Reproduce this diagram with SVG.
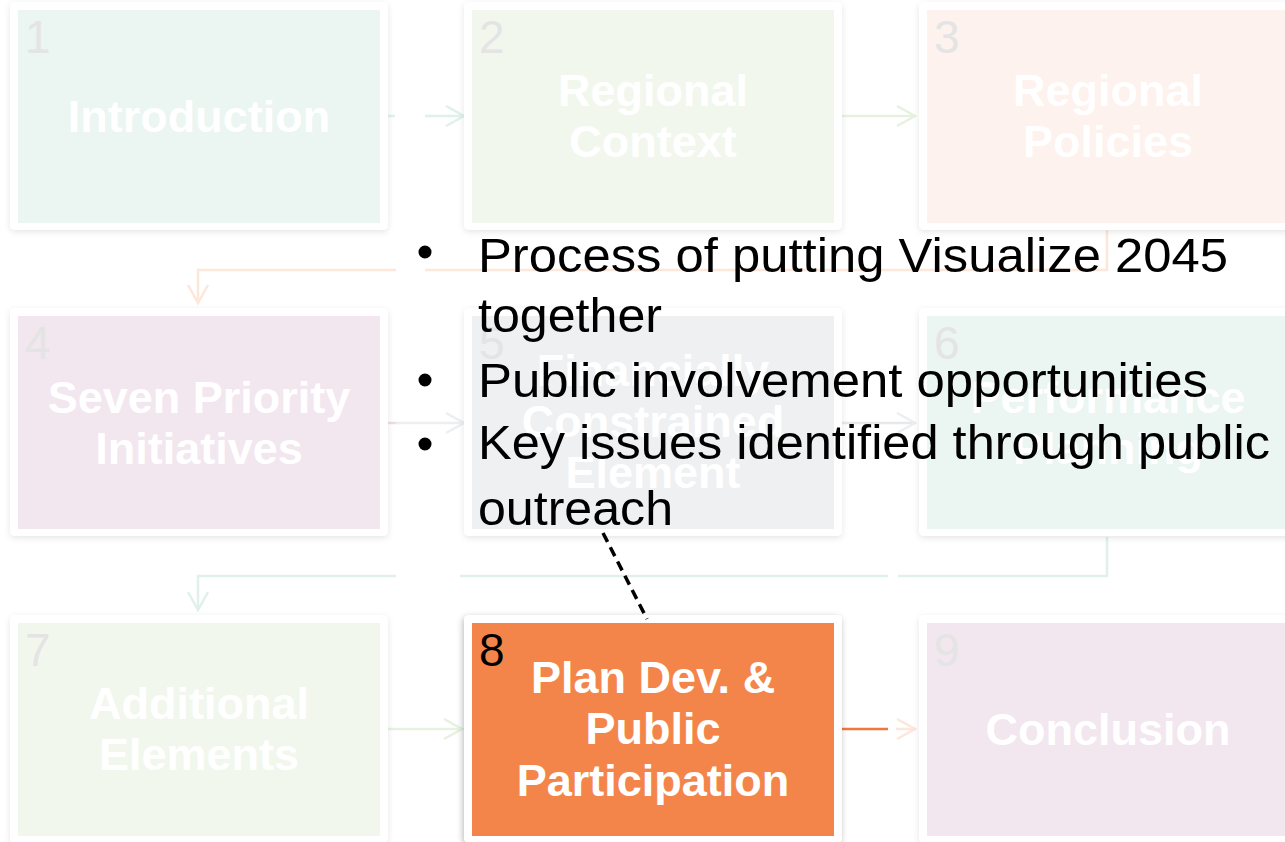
<svg xmlns="http://www.w3.org/2000/svg" width="1285" height="842" viewBox="0 0 1285 842">
<defs>
<style>
.frame{fill:#ffffff;filter:url(#sh);}
.num{font-family:"Liberation Sans",Arial,sans-serif;font-size:46px;fill:#e4e4e4;}
.lbl{font-family:"Liberation Sans",Arial,sans-serif;font-size:45px;font-weight:bold;fill:#ffffff;text-anchor:middle;}
.bul{font-family:"Liberation Sans",Arial,sans-serif;font-size:48px;fill:#000000;}
.cn{fill:none;stroke-width:2.5;}
</style>
<filter id="sh" x="-10%" y="-10%" width="120%" height="125%">
<feDropShadow dx="0" dy="2" stdDeviation="3" flood-color="#000" flood-opacity="0.10"/>
</filter>
<filter id="sh8" x="-10%" y="-10%" width="120%" height="125%">
<feDropShadow dx="-1" dy="2" stdDeviation="3" flood-color="#000" flood-opacity="0.28"/>
</filter>
<marker id="aMint" markerUnits="userSpaceOnUse" markerWidth="24" markerHeight="24" refX="19" refY="11" orient="auto"><path d="M1,1 L19,11 L1,21" fill="none" stroke="#dff1ea" stroke-width="2.5"/></marker>
<marker id="aGreen" markerUnits="userSpaceOnUse" markerWidth="24" markerHeight="24" refX="19" refY="11" orient="auto"><path d="M1,1 L19,11 L1,21" fill="none" stroke="#e6f2df" stroke-width="2.5"/></marker>
<marker id="aPeach" markerUnits="userSpaceOnUse" markerWidth="24" markerHeight="24" refX="19" refY="11" orient="auto"><path d="M1,1 L19,11 L1,21" fill="none" stroke="#fde6da" stroke-width="2.5"/></marker>
<marker id="aGray" markerUnits="userSpaceOnUse" markerWidth="24" markerHeight="24" refX="19" refY="11" orient="auto"><path d="M1,1 L19,11 L1,21" fill="none" stroke="#eceeef" stroke-width="2.5"/></marker>
</defs>
<rect width="1285" height="842" fill="#ffffff"/>

<g id="connectors">
<path class="cn" d="M387,116 L395,116" stroke="#dff1ea"/>
<path class="cn" d="M425,116 L464,116" stroke="#dff1ea" marker-end="url(#aMint)"/>
<path class="cn" d="M841,116 L915,116" stroke="#e6f2df" marker-end="url(#aGreen)"/>
<path class="cn" d="M1107,230 L1107,270 L425,270" stroke="#fde6da"/>
<path class="cn" d="M396,270 L198,270 L198,303" stroke="#fde6da" marker-end="url(#aPeach)"/>
<path class="cn" d="M387,423 L396,423" stroke="#f1d9e6"/>
<path class="cn" d="M396,423 L464,423" stroke="#eceeef" marker-end="url(#aGray)"/>
<path class="cn" d="M841,423 L915,423" stroke="#e6e8ea" marker-end="url(#aGray)"/>
<path class="cn" d="M1107,537 L1107,576 L898,576" stroke="#dff1ea"/>
<path class="cn" d="M888,576 L460,576" stroke="#dff1ea"/>
<path class="cn" d="M396,576 L198,576 L198,610" stroke="#dff1ea" marker-end="url(#aMint)"/>
<path class="cn" d="M387,729 L462,729" stroke="#e6f2df" marker-end="url(#aGreen)"/>
<path class="cn" d="M841,729 L888,729" stroke="#f0783f" stroke-width="3"/>
<path class="cn" d="M896,729 L915,729" stroke="#fde6da" marker-end="url(#aPeach)"/>
</g>

<g id="node1">
<rect class="frame" x="10" y="2" width="378" height="228" rx="5"/>
<rect x="18" y="10" width="362" height="213" fill="#ebf5f1"/>
<text class="num" x="25" y="53">1</text>
<text class="lbl" x="199" y="132">Introduction</text>
</g>
<g id="node2">
<rect class="frame" x="464" y="2" width="378" height="228" rx="5"/>
<rect x="472" y="10" width="362" height="213" fill="#f2f7ee"/>
<text class="num" x="479" y="53">2</text>
<text class="lbl" x="653" y="106">Regional</text>
<text class="lbl" x="653" y="157">Context</text>
</g>
<g id="node3">
<rect class="frame" x="919" y="2" width="378" height="228" rx="5"/>
<rect x="927" y="10" width="362" height="213" fill="#fdf2ed"/>
<text class="num" x="934" y="53">3</text>
<text class="lbl" x="1108" y="106">Regional</text>
<text class="lbl" x="1108" y="157">Policies</text>
</g>
<g id="node4">
<rect class="frame" x="10" y="308" width="378" height="228" rx="5"/>
<rect x="18" y="316" width="362" height="213" fill="#f2e7ef"/>
<text class="num" x="25" y="359">4</text>
<text class="lbl" x="199" y="413">Seven Priority</text>
<text class="lbl" x="199" y="464">Initiatives</text>
</g>
<g id="node5">
<rect class="frame" x="464" y="308" width="378" height="228" rx="5"/>
<rect x="472" y="316" width="362" height="213" fill="#eff0f1"/>
<text class="num" x="479" y="359">5</text>
<text class="lbl" x="653" y="386">Financially</text>
<text class="lbl" x="653" y="437">Constrained</text>
<text class="lbl" x="653" y="488">Element</text>
</g>
<g id="node6">
<rect class="frame" x="919" y="308" width="378" height="228" rx="5"/>
<rect x="927" y="316" width="362" height="213" fill="#ebf5f1"/>
<text class="num" x="934" y="359">6</text>
<text class="lbl" x="1108" y="413">Performance</text>
<text class="lbl" x="1108" y="464">Planning</text>
</g>
<g id="node7">
<rect class="frame" x="10" y="615" width="378" height="228" rx="5"/>
<rect x="18" y="623" width="362" height="213" fill="#f2f7ee"/>
<text class="num" x="25" y="666">7</text>
<text class="lbl" x="199" y="719">Additional</text>
<text class="lbl" x="199" y="770">Elements</text>
</g>
<g id="node8">
<rect x="464" y="615" width="378" height="228" rx="5" fill="#ffffff" filter="url(#sh8)"/>
<rect x="472" y="623" width="362" height="213" fill="#f4854a"/>
<text class="num" x="479" y="666" style="fill:#000000">8</text>
<text class="lbl" x="653" y="693">Plan Dev. &amp;</text>
<text class="lbl" x="653" y="744">Public</text>
<text class="lbl" x="653" y="796">Participation</text>
</g>
<g id="node9">
<rect class="frame" x="919" y="615" width="378" height="228" rx="5"/>
<rect x="927" y="623" width="362" height="213" fill="#f2e7ef"/>
<text class="num" x="934" y="666">9</text>
<text class="lbl" x="1108" y="745">Conclusion</text>
</g>

<g id="callout">
<path d="M603,533 L647,619" fill="none" stroke="#000000" stroke-width="3.5" stroke-dasharray="10,6"/>
<circle cx="425" cy="252" r="6.5" fill="#000"/>
<circle cx="425" cy="380" r="6.5" fill="#000"/>
<circle cx="425" cy="444" r="6.5" fill="#000"/>
<text class="bul" x="478" y="272" textLength="750" lengthAdjust="spacingAndGlyphs">Process of putting Visualize 2045</text>
<text class="bul" x="478" y="332" textLength="184" lengthAdjust="spacingAndGlyphs">together</text>
<text class="bul" x="478" y="397" textLength="730" lengthAdjust="spacingAndGlyphs">Public involvement opportunities</text>
<text class="bul" x="478" y="459" textLength="792" lengthAdjust="spacingAndGlyphs">Key issues identified through public</text>
<text class="bul" x="478" y="525" textLength="195" lengthAdjust="spacingAndGlyphs">outreach</text>
</g>
</svg>
